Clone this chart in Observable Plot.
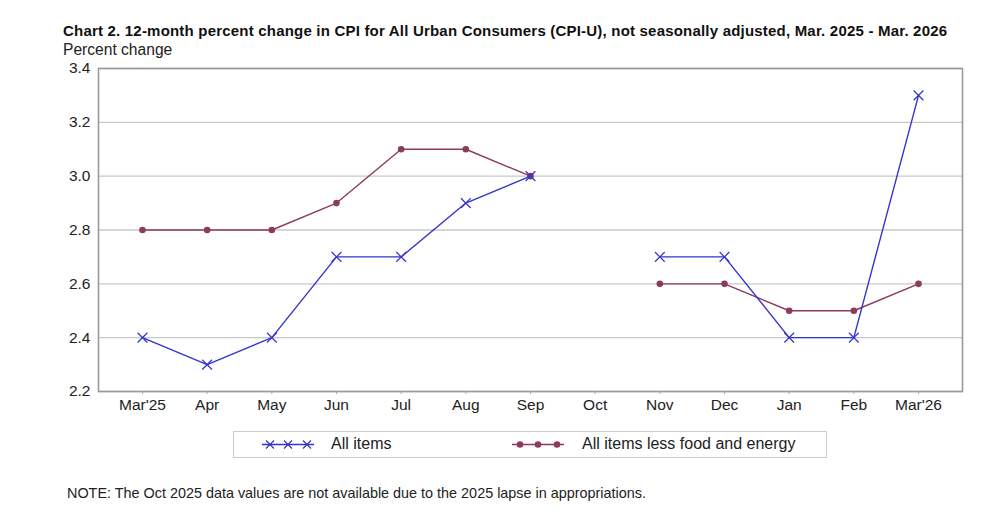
<!DOCTYPE html>
<html>
<head>
<meta charset="utf-8">
<script src="https://cdn.jsdelivr.net/npm/d3@7"></script>
<script src="https://cdn.jsdelivr.net/npm/@observablehq/plot@0.6"></script>
<style>
  html, body { margin: 0; padding: 0; background: #fff; }
  body { width: 1000px; height: 518px; position: relative; overflow: hidden; font-family: "Liberation Sans", Arial, sans-serif; color: #111; }
  #title { position: absolute; left: 63px; top: 22px; font-size: 15px; font-weight: bold; white-space: nowrap; letter-spacing: 0.2px; }
  #ylab { position: absolute; left: 63px; top: 41px; font-size: 15.6px; color: #222; }
  #chart { position: absolute; left: 0; top: 0; }
  #legend { position: absolute; left: 233px; top: 431px; width: 592px; height: 25px; border: 1px solid #ccc; box-sizing: content-box; }
  #legend svg { position: absolute; left: 0; top: 0; }
  .lt { position: absolute; top: 3px; font-size: 16px; color: #222; }
  #note { position: absolute; left: 67px; top: 485px; font-size: 14.4px; color: #222; }
</style>
</head>
<body>
<div id="title">Chart 2. 12-month percent change in CPI for All Urban Consumers (CPI-U), not seasonally adjusted, Mar. 2025 - Mar. 2026</div>
<div id="ylab">Percent change</div>
<div id="chart"></div>
<div id="legend"></div>
<div id="note">NOTE: The Oct 2025 data values are not available due to the 2025 lapse in appropriations.</div>
<script>
const months = ["Mar'25","Apr","May","Jun","Jul","Aug","Sep","Oct","Nov","Dec","Jan","Feb","Mar'26"];
const allItems = [2.4, 2.3, 2.4, 2.7, 2.7, 2.9, 3.0, null, 2.7, 2.7, 2.4, 2.4, 3.3];
const coreItems = [2.8, 2.8, 2.8, 2.9, 3.1, 3.1, 3.0, null, 2.6, 2.6, 2.5, 2.5, 2.6];
const yTicks = [2.2, 2.4, 2.6, 2.8, 3.0, 3.2, 3.4];
const seriesNames = ["All items", "All items less food and energy"];
const colors = ["#3535cc", "#8c3b5e"];

const allData = months.map((m, i) => ({month: m, value: allItems[i] ?? NaN}));
const coreData = months.map((m, i) => ({month: m, value: coreItems[i] ?? NaN}));

const chart = Plot.plot({
  width: 1000,
  height: 420,
  marginLeft: 98,
  marginRight: 38,
  marginTop: 68,
  marginBottom: 29,
  style: {fontFamily: "'Liberation Sans', Arial, sans-serif", fontSize: "15.5px", color: "#222", background: "transparent"},
  x: {type: "point", domain: months, padding: 0.68, round: false, label: null},
  y: {domain: [2.2, 3.4], ticks: yTicks, tickFormat: d3.format(".1f"), label: null},
  marks: [
    Plot.gridY(yTicks, {stroke: "#c8c8c8", strokeOpacity: 1, strokeWidth: 1.3}),
    Plot.frame({stroke: "#9a9a9a", strokeWidth: 1.6}),
    Plot.axisX({tickSize: 3, tickPadding: 4, fontSize: 15.5, stroke: "#aaa"}),
    Plot.axisY({ticks: yTicks, tickFormat: d3.format(".1f"), tickSize: 0, tickPadding: 8, fontSize: 15.5}),
    Plot.line(coreData, {x: "month", y: "value", stroke: colors[1], strokeWidth: 1.4}),
    Plot.dot(coreData.filter(d => !isNaN(d.value)), {x: "month", y: "value", fill: colors[1], r: 3.3}),
    Plot.line(allData, {x: "month", y: "value", stroke: colors[0], strokeWidth: 1.4}),
    Plot.dot(allData.filter(d => !isNaN(d.value)), {x: "month", y: "value", symbol: "times", stroke: colors[0], strokeWidth: 1.2, r: 4.5})
  ]
});
document.getElementById("chart").appendChild(chart);

// legend
const leg = document.getElementById("legend");
const ns = "http://www.w3.org/2000/svg";
const svg = document.createElementNS(ns, "svg");
svg.setAttribute("width", 592); svg.setAttribute("height", 25);
function el(tag, attrs) { const e = document.createElementNS(ns, tag); for (const k in attrs) e.setAttribute(k, attrs[k]); svg.appendChild(e); return e; }
const cy = 12.5;
el("line", {x1: 28, x2: 80, y1: cy, y2: cy, stroke: colors[0], "stroke-width": 1.4});
[36, 54, 73].forEach(x => {
  el("path", {d: `M${x-4},${cy-4}L${x+4},${cy+4}M${x-4},${cy+4}L${x+4},${cy-4}`, stroke: colors[0], "stroke-width": 1.2, fill: "none"});
});
el("line", {x1: 278, x2: 330, y1: cy, y2: cy, stroke: colors[1], "stroke-width": 1.4});
[286, 304, 323].forEach(x => el("circle", {cx: x, cy: cy, r: 3.3, fill: colors[1]}));
leg.appendChild(svg);
const t1 = document.createElement("div"); t1.className = "lt"; t1.style.left = "97px"; t1.textContent = seriesNames[0]; leg.appendChild(t1);
const t2 = document.createElement("div"); t2.className = "lt"; t2.style.left = "348px"; t2.textContent = seriesNames[1]; leg.appendChild(t2);
</script>
</body>
</html>
